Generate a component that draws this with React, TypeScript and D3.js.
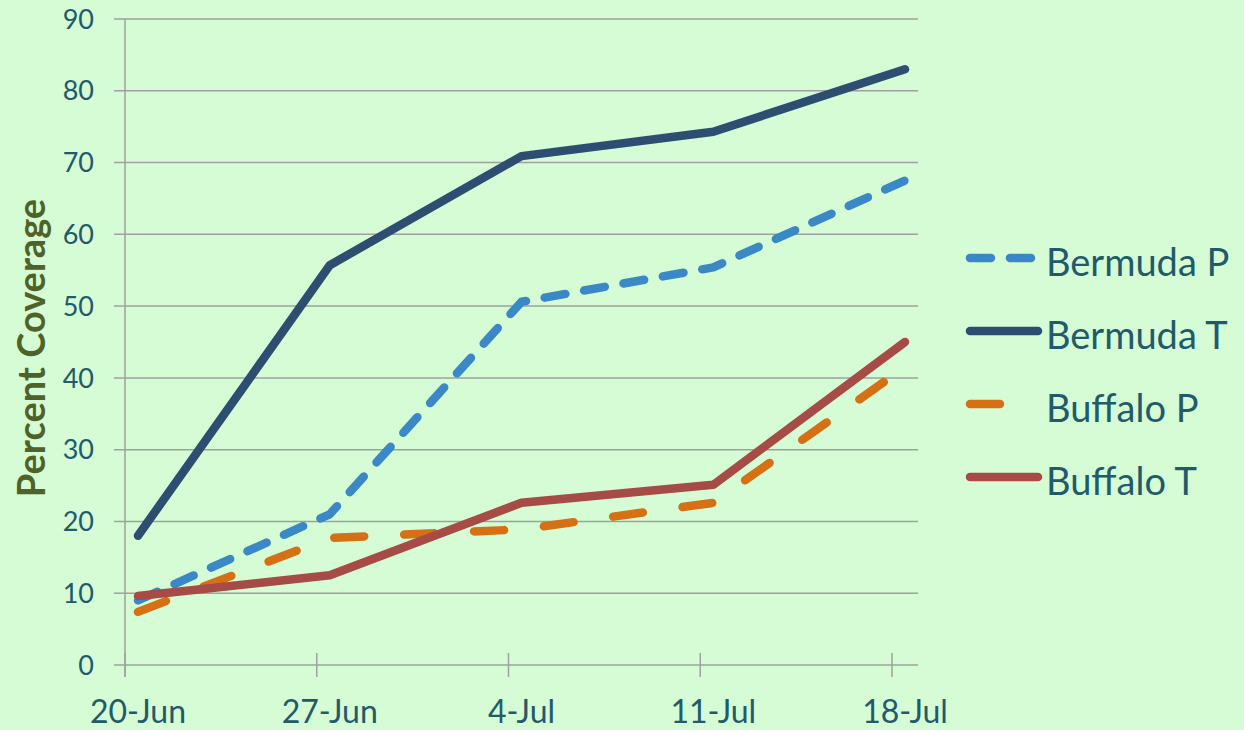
import { useEffect, useRef } from 'react';
import * as d3 from 'd3';

const dates = ['20-Jun', '27-Jun', '4-Jul', '11-Jul', '18-Jul'];
const bermudaP = [9, 21, 50.6, 55.4, 67.5];
const bermudaT = [18, 55.7, 70.9, 74.3, 83];
const buffaloP = [7.4, 17.7, 18.9, 22.6, 41.5];
const buffaloT = [9.6, 12.5, 22.6, 25.1, 45];
const yTicks = [0, 10, 20, 30, 40, 50, 60, 70, 80, 90];

const series = [
	{ name: 'Bermuda P', values: bermudaP, color: '#3b88c7', dash: '21,19' },
	{ name: 'Bermuda T', values: bermudaT, color: '#2d4e71', dash: null },
	{ name: 'Buffalo P', values: buffaloP, color: '#d57015', dash: '30,40' },
	{ name: 'Buffalo T', values: buffaloT, color: '#a64b46', dash: null },
];

const W = 1244;
const H = 730;
const FONT = 'Lato, "Open Sans", sans-serif';
const TEXT = '#215a6a';
const GRID = '#a0a0a0';

const App: React.FC = () => {
	const svgRef = useRef<SVGSVGElement>(null);

	useEffect(() => {
		if (!svgRef.current) return;
		const svg = d3.select(svgRef.current);
		svg.selectAll('*').remove();

		const left = 125;
		const right = 918;
		const top = 19;
		const bottom = 665;

		const x = d3.scalePoint<string>().domain(dates).range([138, 905]);
		const y = d3.scaleLinear().domain([0, 90]).range([bottom, top]);
		const tickOffset = 13;

		svg.append('rect').attr('width', W).attr('height', H).attr('fill', '#d5fcd5');

		// gridlines + y ticks
		svg.append('g')
			.selectAll('line')
			.data(yTicks)
			.join('line')
			.attr('x1', left - 11)
			.attr('x2', right)
			.attr('y1', (d) => y(d))
			.attr('y2', (d) => y(d))
			.attr('stroke', GRID)
			.attr('stroke-width', 1.5);

		svg.append('line')
			.attr('x1', left)
			.attr('x2', left)
			.attr('y1', top)
			.attr('y2', bottom + 12)
			.attr('stroke', GRID)
			.attr('stroke-width', 1.5);

		svg.append('g')
			.selectAll('line')
			.data(dates)
			.join('line')
			.attr('x1', (d) => (x(d) ?? 0) - tickOffset)
			.attr('x2', (d) => (x(d) ?? 0) - tickOffset)
			.attr('y1', bottom - 12)
			.attr('y2', bottom + 12)
			.attr('stroke', GRID)
			.attr('stroke-width', 1.5);

		svg.append('g')
			.selectAll('text')
			.data(yTicks)
			.join('text')
			.attr('x', 94)
			.attr('y', (d) => y(d))
			.attr('dy', '0.36em')
			.attr('text-anchor', 'end')
			.style('font-family', FONT)
			.style('font-size', '27px')
			.style('fill', TEXT)
			.text((d) => d);

		svg.append('g')
			.selectAll('text')
			.data(dates)
			.join('text')
			.attr('x', (d) => x(d) ?? 0)
			.attr('y', 723)
			.attr('text-anchor', 'middle')
			.style('font-family', FONT)
			.style('font-size', '32px')
			.style('fill', TEXT)
			.text((d) => d);

		svg.append('text')
			.attr('transform', `translate(45, ${(top + bottom) / 2 + 6}) rotate(-90)`)
			.attr('text-anchor', 'middle')
			.style('font-family', FONT)
			.style('font-size', '38px')
			.style('font-weight', 'bold')
			.style('fill', '#4f6228')
			.text('Percent Coverage');

		const line = d3
			.line<number>()
			.x((_, i) => x(dates[i]) ?? 0)
			.y((d) => y(d));

		series.forEach((s) => {
			svg.append('path')
				.datum(s.values)
				.attr('d', line)
				.attr('fill', 'none')
				.attr('stroke', s.color)
				.attr('stroke-width', 8.5)
				.attr('stroke-linecap', 'round')
				.attr('stroke-linejoin', 'round')
				.attr('stroke-dasharray', s.dash);
		});

		// legend
		const legend = svg.append('g');
		series.forEach((s, i) => {
			const ly = 258 + i * 73;
			legend
				.append('line')
				.attr('x1', 970)
				.attr('x2', 1038)
				.attr('y1', ly)
				.attr('y2', ly)
				.attr('stroke', s.color)
				.attr('stroke-width', 8.5)
				.attr('stroke-linecap', 'round')
				.attr('stroke-dasharray', s.dash);
			legend
				.append('text')
				.attr('x', 1046)
				.attr('y', ly + 18)
				.style('font-family', FONT)
				.style('font-size', '38px')
				.style('fill', TEXT)
				.text(s.name);
		});
	}, []);

	return (
		<svg
			ref={svgRef}
			width={W}
			height={H}
			style={{ position: 'absolute', left: 0, top: 0, display: 'block' }}
		></svg>
	);
};

export default App;
